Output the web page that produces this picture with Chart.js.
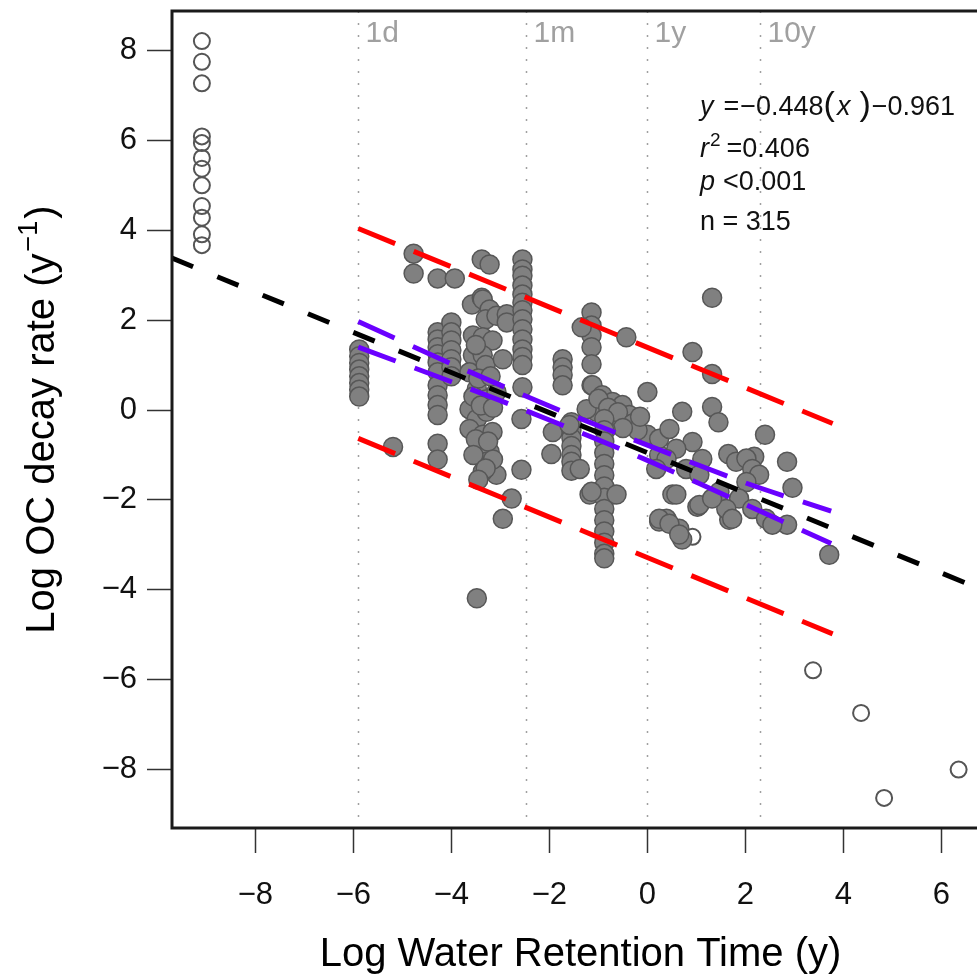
<!DOCTYPE html>
<html>
<head>
<meta charset="utf-8">
<script src="https://cdn.jsdelivr.net/npm/chart.js@4.4.1/dist/chart.umd.min.js"></script>
<style>
    body { margin: 0; background: #fff; }
    #wrap { width: 977px; height: 977px; overflow: hidden; position: relative; }
    #chart { position: absolute; left: 0; top: 0; }
</style>
</head>
<body>
<div id="wrap"><canvas id="chart" width="1000" height="977"></canvas></div>
<script>
// Axis ranges and ticks
const xRange = [-9.70, 6.97];
const yRange = [-9.30, 8.88];
const xTicks = [-8, -6, -4, -2, 0, 2, 4, 6];
const yTicks = [-8, -6, -4, -2, 0, 2, 4, 6, 8];

// Reference retention times (years) and their labels
const refTimes = [1 / 365, 1 / 12, 1, 10];
const refLabels = ['1d', '1m', '1y', '10y'];

// Points used in the regression [log WRT, log k]
const keptPoints = [
    [-5.88, 1.35], [-5.88, 1.2], [-5.88, 1.05], [-5.88, 0.9], [-5.88, 0.75], [-5.88, 0.6], [-5.88, 0.45], [-5.88, 0.3],
    [-5.19, -0.82],
    [-4.77, 3.48], [-4.77, 3.04], [-4.28, 2.93], [-3.93, 2.93],
    [-4.28, 1.73], [-4.28, 1.57], [-4.28, 1.40], [-4.28, 1.24], [-4.28, 1.06], [-4.28, 0.84], [-4.28, 0.55],
    [-4.28, 0.33], [-4.28, 0.11], [-4.28, -0.11], [-4.28, -0.75], [-4.28, -1.1],
    [-4.0, 1.95], [-4.0, 1.73], [-4.0, 1.55], [-4.0, 1.33], [-4.0, 1.13], [-4.0, 0.95], [-4.0, 0.75],
    [-3.58, 2.35], [-3.38, 2.5], [-3.38, 3.35], [-3.22, 3.24],
    [-3.36, 2.46], [-3.22, 2.24], [-3.3, 2.02], [-3.08, 2.1],
    [-3.56, 1.66], [-3.36, 1.62], [-3.16, 1.55], [-3.56, 1.22], [-3.36, 1.22], [-3.63, 0.84], [-3.48, 0.47],
    [-3.28, 0.24], [-3.08, 0.4], [-3.63, 0.02], [-3.48, -0.2], [-3.28, -0.04], [-3.63, -0.42], [-3.36, -0.55],
    [-3.16, -0.49], [-3.42, -0.86], [-3.22, -0.93], [-3.28, -1.15], [-3.08, -1.44], [-3.36, -1.37],
    [-3.5, 1.45], [-3.3, 1.0], [-3.45, 0.7], [-3.2, 0.75], [-3.55, 0.3], [-3.4, 0.1], [-3.15, 0.05],
    [-3.5, -0.65], [-3.25, -0.7], [-3.55, -1.0], [-3.15, -1.1], [-3.3, -1.3], [-3.45, -1.55],
    [-3.48, -4.19],
    [-2.95, -2.42], [-2.77, -1.97], [-2.57, -1.33], [-2.57, -0.2], [-2.87, 2.13], [-2.87, 1.95], [-2.95, 1.13],
    [-2.55, 3.35], [-2.55, 3.13], [-2.55, 2.99], [-2.55, 2.77], [-2.55, 2.57], [-2.55, 2.39], [-2.55, 2.22],
    [-2.55, 2.02], [-2.55, 1.8], [-2.55, 1.57], [-2.55, 1.35], [-2.55, 1.18], [-2.55, 1.0], [-2.55, 0.51],
    [-1.93, -0.49], [-1.96, -0.98],
    [-1.73, 1.13], [-1.73, 0.95], [-1.73, 0.78], [-1.73, 0.55],
    [-1.55, -0.27], [-1.55, -0.45], [-1.55, -0.62], [-1.55, -0.8], [-1.55, -1.0], [-1.55, -1.15], [-1.55, -1.35],
    [-1.38, -1.31],
    [-1.14, 2.17], [-1.14, 1.88], [-1.14, 1.66], [-1.14, 1.40], [-1.14, 1.02], [-1.14, 0.55],
    [-1.34, 1.84], [-0.43, 1.62],
    [-1.12, 0.55], [-0.92, 0.33], [-0.71, 0.18], [-0.51, 0.11], [-1.04, -0.04], [-0.71, -0.27], [-0.37, -0.11],
    [-1.24, 0.02], [0, 0.4], [-1.59, -0.33], [-1.18, -1.88], [-0.71, -1.88], [0.24, -2.48], [0, -0.55], [0.24, -1.0],
    [-1.0, 0.25], [-0.8, 0.05], [-0.6, -0.05], [-0.3, -0.3], [-0.2, -0.45], [-0.5, -0.4], [-0.85, -0.45], [-0.15, -0.15],
    [-0.88, -0.2], [-0.88, -0.45], [-0.88, -0.7], [-0.88, -0.95], [-0.88, -1.2], [-0.88, -1.45], [-0.88, -1.7],
    [-0.88, -1.95], [-0.88, -2.2], [-0.88, -2.45], [-0.88, -2.7], [-0.88, -2.95], [-0.88, -3.2], [-0.88, -3.3],
    [-1.14, -1.82], [-0.63, -1.88],
    [1.32, 2.5], [0.92, 1.29], [1.32, 0.8], [1.32, 0.07], [1.45, -0.27], [2.4, -0.55], [2.85, -1.15], [2.96, -1.73],
    [3.71, -3.22], [0.71, -0.04],
    [1.65, -0.98], [2.18, -1.04], [1.67, -2.44], [0.51, -1.88], [1.02, -2.15], [0.39, -2.42], [0.65, -2.64],
    [0.71, -2.88], [2.85, -2.55],
    [0.24, -0.64], [0.45, -0.42], [0.92, -0.71], [0.59, -0.86], [1.12, -1.09], [0.39, -1.09], [0.18, -1.31],
    [0.79, -1.31], [1.06, -1.44], [0.59, -1.88], [1.06, -2.11], [0.24, -2.42], [0.45, -2.53], [0.65, -2.77],
    [1.47, -1.82], [1.81, -1.15], [2.02, -1.08], [2.14, -1.31], [2.28, -1.44], [2.02, -1.6], [1.87, -1.97],
    [1.61, -2.2], [2.14, -2.2], [2.42, -2.42], [2.55, -2.55], [1.73, -2.42], [1.32, -1.97]
];

// Points left out of the regression (open circles)
const excludedPoints = [
    [-9.09, 8.21], [-9.09, 7.75], [-9.09, 7.27], [-9.09, 6.09], [-9.09, 5.94], [-9.09, 5.61],
    [-9.09, 5.37], [-9.09, 5.00], [-9.09, 4.54], [-9.09, 4.28], [-9.09, 3.91], [-9.09, 3.67],
    [0.92, -2.82],
    [3.38, -5.79], [4.36, -6.74], [4.83, -8.63], [6.35, -8.0]
];

// Fitted line, prediction interval and confidence band
const fitX = [-9.70, 6.97];
const fitY = [3.38, -4.06];
const piX = [-5.9, 3.78];
const piUpper = [4.04, -0.30];
const piLower = [-0.63, -4.98];
const ciX = [-5.9, -4, -2, 0, 2, 3.75];
const ciUpper = [1.97, 1.03, 0.09, -0.78, -1.62, -2.25];
const ciLower = [1.40, 0.63, -0.22, -1.12, -2.10, -2.97];

const FONT = '"Liberation Sans", Arial, sans-serif';
const toXY = (xs, ys) => xs.map((x, i) => ({ x: x, y: ys[i] }));
const toPts = pairs => pairs.map(p => ({ x: p[0], y: p[1] }));
const fmtTick = v => (v < 0 ? '\u2212' + Math.abs(v) : String(v));

function lineSet(data, color, dash, order) {
    return {
        data: data, showLine: true, borderColor: color, borderWidth: 5,
        borderDash: dash, pointRadius: 0, fill: false, tension: 0.3, order: order
    };
}

// draws a row of text pieces with mixed styles
function drawRuns(ctx, x, y, runs) {
    runs.forEach(r => {
        ctx.font = (r.italic ? 'italic ' : '') + r.size + 'px ' + FONT;
        ctx.fillText(r.t, x, y - (r.dy || 0));
        x += ctx.measureText(r.t).width + (r.gap || 0);
    });
}

function runsWidth(ctx, runs) {
    let w = 0;
    runs.forEach(r => {
        ctx.font = (r.italic ? 'italic ' : '') + r.size + 'px ' + FONT;
        w += ctx.measureText(r.t).width + (r.gap || 0);
    });
    return w;
}

const decorPlugin = {
    id: 'decor',
    beforeDatasetsDraw(chart) {
        const { ctx, chartArea: a, scales: { x } } = chart;
        ctx.save();
        ctx.strokeStyle = '#a0a0a0';
        ctx.lineWidth = 1.5;
        ctx.setLineDash([2, 10]);
        ctx.fillStyle = '#a0a0a0';
        refTimes.forEach((t, i) => {
            const px = Math.round(x.getPixelForValue(Math.log(t))) + 0.5;
            ctx.beginPath();
            ctx.moveTo(px, a.top);
            ctx.lineTo(px, a.bottom);
            ctx.stroke();
            ctx.font = '30px ' + FONT;
            ctx.textBaseline = 'alphabetic';
            ctx.fillText(refLabels[i], px + 7, 42);
        });
        ctx.restore();
    },
    afterDatasetsDraw(chart) {
        const { ctx, chartArea: a } = chart;
        ctx.save();
        ctx.strokeStyle = '#1a1a1a';
        ctx.lineWidth = 3;
        ctx.strokeRect(a.left, a.top, a.right - a.left, a.bottom - a.top);

        ctx.fillStyle = '#111';
        ctx.textBaseline = 'alphabetic';
        // regression stats
        drawRuns(ctx, 700, 115, [
            { t: 'y', italic: true, size: 27, gap: 10 }, { t: '=', size: 27, gap: 1 }, { t: '\u22120.448', size: 27 },
            { t: '(', size: 34, gap: 2 }, { t: 'x', italic: true, size: 27, gap: 9 }, { t: ')', size: 34, gap: 1 },
            { t: '\u22120.961', size: 27 }
        ]);
        drawRuns(ctx, 700, 157, [
            { t: 'r', italic: true, size: 27, gap: 1 }, { t: '2', size: 19, dy: 11, gap: 6 }, { t: '=0.406', size: 27 }
        ]);
        drawRuns(ctx, 700, 190, [
            { t: 'p', italic: true, size: 27, gap: 8 }, { t: '<0.001', size: 27 }
        ]);
        drawRuns(ctx, 700, 230, [{ t: 'n = 315', size: 27 }]);

        // axis titles
        ctx.fillStyle = '#000';
        ctx.font = '40px ' + FONT;
        ctx.textAlign = 'center';
        ctx.fillText('Log Water Retention Time (y)', (a.left + a.right) / 2, 966);
        ctx.textAlign = 'left';
        const yRuns = [
            { t: 'Log OC decay rate (y', size: 40, gap: 2 }, { t: '\u22121', size: 27, dy: 17, gap: 2 },
            { t: ')', size: 40 }
        ];
        ctx.translate(54, (a.top + a.bottom) / 2);
        ctx.rotate(-Math.PI / 2);
        drawRuns(ctx, -runsWidth(ctx, yRuns) / 2, 0, yRuns);
        ctx.restore();
    }
};

const axisTicks = pad => ({
    font: { family: FONT, size: 31 }, color: '#111', padding: pad,
    autoSkip: false, maxRotation: 0, callback: fmtTick
});
const axisGrid = { drawOnChartArea: false, drawTicks: true, tickLength: 25, tickColor: '#333', tickWidth: 1.5 };

new Chart(document.getElementById('chart'), {
    type: 'scatter',
    data: {
        datasets: [
            lineSet(toXY(fitX, fitY), '#000000', [23, 26], 0),
            lineSet(toXY(ciX, ciUpper), '#6a00ff', [40, 20], 1),
            lineSet(toXY(ciX, ciLower), '#6a00ff', [40, 20], 2),
            lineSet(toXY(piX, piUpper), '#ff0000', [40, 20], 3),
            lineSet(toXY(piX, piLower), '#ff0000', [40, 20], 4),
            {
                data: toPts(keptPoints), pointRadius: 9.5, pointBackgroundColor: '#808080',
                pointBorderColor: '#575757', pointBorderWidth: 1.5, order: 5
            },
            {
                data: toPts(excludedPoints), pointRadius: 8, pointBackgroundColor: 'rgba(255,255,255,0)',
                pointBorderColor: '#555555', pointBorderWidth: 2, order: 6
            }
        ]
    },
    options: {
        responsive: false,
        animation: false,
        layout: { padding: { top: 9, right: 10, left: 0, bottom: 0 } },
        plugins: { legend: { display: false }, tooltip: { enabled: false } },
        scales: {
            x: {
                type: 'linear', min: xRange[0], max: xRange[1],
                afterFit: s => { s.height = 149; s.paddingLeft = 0; s.paddingRight = 0; },
                afterBuildTicks: s => { s.ticks = xTicks.map(v => ({ value: v })); },
                grid: axisGrid, border: { display: false },
                ticks: axisTicks(24)
            },
            y: {
                type: 'linear', min: yRange[0], max: yRange[1],
                // no room kept for half tick labels, so the box reaches the top
                afterFit: s => { s.width = 172; s.paddingTop = 0; s.paddingBottom = 0; },
                afterBuildTicks: s => { s.ticks = yTicks.map(v => ({ value: v })); },
                grid: axisGrid, border: { display: false },
                ticks: axisTicks(10)
            }
        }
    },
    plugins: [decorPlugin]
});
</script>
</body>
</html>
